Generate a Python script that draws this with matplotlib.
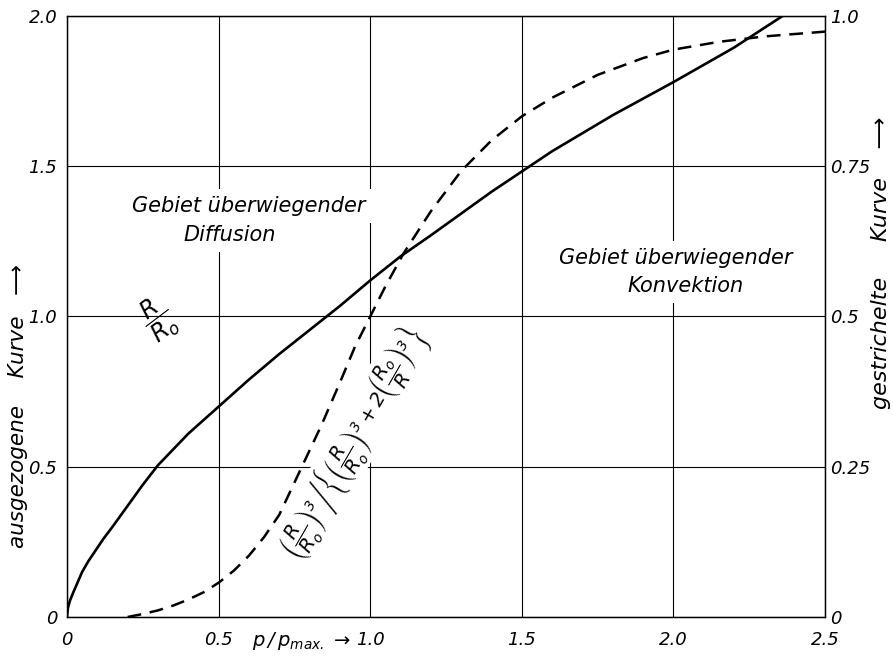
import numpy as np
import matplotlib
matplotlib.use("Agg")
import matplotlib.pyplot as plt

# ---------------- data ----------------
# ausgezogene Kurve: R/R0 over p/pmax (left axis)
p_solid = [0.0, 0.003, 0.01, 0.02, 0.035, 0.05, 0.07, 0.09, 0.12, 0.15, 0.20, 0.25, 0.30,
           0.40, 0.50, 0.60, 0.70, 0.80, 0.90, 1.00, 1.10, 1.20, 1.40, 1.60, 1.80,
           2.00, 2.20, 2.36]
r_solid = [0.0, 0.03, 0.055, 0.08, 0.115, 0.15, 0.185, 0.215, 0.26, 0.30, 0.37, 0.44,
           0.505, 0.61, 0.70, 0.79, 0.875, 0.955, 1.035, 1.12, 1.20, 1.27, 1.415,
           1.55, 1.67, 1.78, 1.895, 2.0]

# gestrichelte Kurve (right axis)
p_dash = [0.20, 0.25, 0.30, 0.35, 0.40, 0.45, 0.50, 0.55, 0.60, 0.65, 0.70, 0.77, 0.84,
          0.90, 0.95, 1.00, 1.05, 1.11, 1.20, 1.30, 1.40, 1.50, 1.60, 1.75, 1.90,
          2.00, 2.15, 2.30, 2.50]
v_dash = [0.0, 0.005, 0.011, 0.019, 0.029, 0.041, 0.057, 0.077, 0.102, 0.133, 0.17,
          0.245, 0.32, 0.39, 0.45, 0.50, 0.55, 0.605, 0.675, 0.742, 0.793, 0.833,
          0.864, 0.902, 0.930, 0.944, 0.957, 0.966, 0.974]

x_ticks = [0, 0.5, 1.0, 1.5, 2.0, 2.5]
x_labels = ["0", "0.5", "1.0", "1.5", "2.0", "2.5"]
yl_ticks = [0, 0.5, 1.0, 1.5, 2.0]
yl_labels = ["0", "0.5", "1.0", "1.5", "2.0"]
yr_ticks = [0, 0.25, 0.5, 0.75, 1.0]
yr_labels = ["0", "0.25", "0.5", "0.75", "1.0"]

# ---------------- figure ----------------
plt.rcParams["font.family"] = ["DejaVu Sans"]
plt.rcParams["font.style"] = "italic"
plt.rcParams["mathtext.fontset"] = "dejavusans"

fig = plt.figure(figsize=(8.93, 6.58), dpi=100)
ax = fig.add_axes([0.0750, 0.0623, 0.8489, 0.9134])
ax2 = ax.twinx()

ax.set_xlim(0, 2.5)
ax.set_ylim(0, 2.0)
ax2.set_ylim(0, 1.0)

ax.set_xticks(x_ticks)
ax.set_xticklabels(x_labels)
ax.set_yticks(yl_ticks)
ax.set_yticklabels(yl_labels)
ax2.set_yticks(yr_ticks)
ax2.set_yticklabels(yr_labels)

ax.tick_params(length=0, labelsize=13, pad=7)
ax.tick_params(axis="x", pad=10)
ax2.tick_params(length=0, labelsize=13, pad=4)

ax.grid(True, color="black", linewidth=0.8)
ax.set_axisbelow(True)
for a in (ax, ax2):
    for s in a.spines.values():
        s.set_linewidth(0.9)

# gestrichelte Kurve soll über den weissen Textkästen liegen
ax.set_zorder(2)
ax2.set_zorder(3)
ax.patch.set_visible(False)
ax2.patch.set_visible(False)

ax.plot(p_solid, r_solid, color="black", linewidth=1.9, zorder=5)
dl, = ax2.plot(p_dash, v_dash, color="black", linewidth=1.8, zorder=5)
dl.set_dashes([5.5, 3.5])

box = dict(facecolor="white", edgecolor="none", pad=5)
ax.text(0.600, 1.368, "Gebiet überwiegender", fontsize=15, ha="center", va="center",
        bbox=box, zorder=3)
ax.text(0.538, 1.271, "Diffusion", fontsize=15, ha="center", va="center",
        bbox=box, zorder=3)
ax.text(2.009, 1.195, "Gebiet überwiegender", fontsize=15, ha="center", va="center",
        bbox=box, zorder=3)
ax.text(2.040, 1.100, "Konvektion", fontsize=15, ha="center", va="center",
        bbox=box, zorder=3)

ax.text(0.30, 0.99, r"$\dfrac{R}{R_o}$", fontsize=17, rotation=37,
        ha="center", va="center", zorder=3)

formula = (r"$\left.\left(\dfrac{R}{R_o}\right)^{3}\right/\left\{\left(\dfrac{R}{R_o}\right)^{3}"
           r"+2\left(\dfrac{R_o}{R}\right)^{3}\right\}$")
ax.text(0.945, 0.58, formula, fontsize=14, rotation=60, rotation_mode="anchor",
        ha="center", va="center", bbox=dict(facecolor="white", edgecolor="none", pad=1),
        zorder=3)

ax.text(0.61, -0.04, r"$p\,/\,p_{max.}$" + " →", transform=ax.get_xaxis_transform(),
        fontsize=14, ha="left", va="center")

fig.text(0.020, 0.383, "ausgezogene    Kurve   ⟶", rotation=90, fontsize=15.5,
         ha="center", va="center")
fig.text(0.987, 0.600, "gestrichelte     Kurve    ⟶", rotation=90, fontsize=16,
         ha="center", va="center")

fig.savefig("out.png", dpi=100)
